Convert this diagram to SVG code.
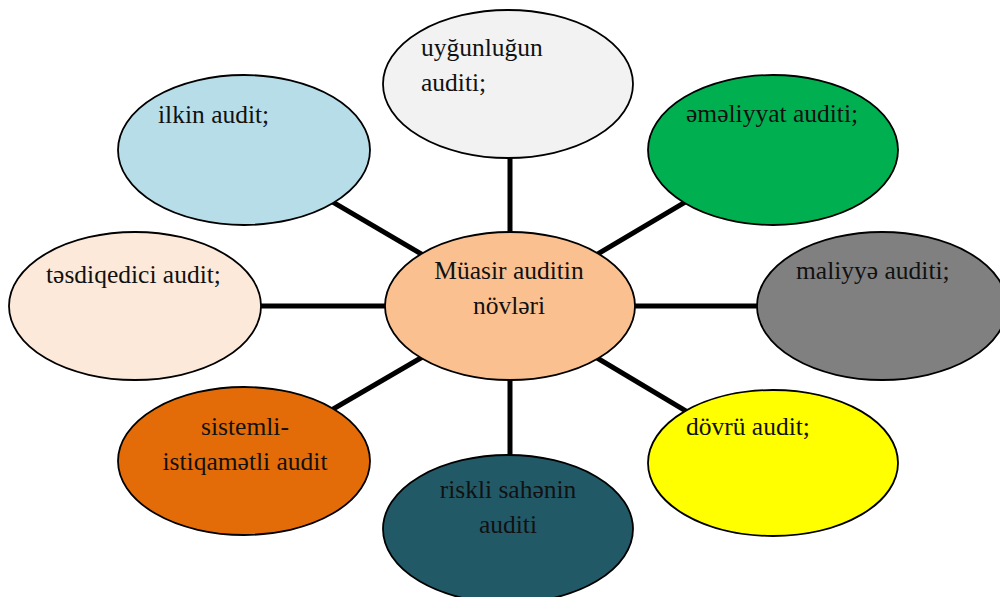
<svg xmlns="http://www.w3.org/2000/svg" width="1000" height="597" viewBox="0 0 1000 597">
<style>
.n{stroke:#000;stroke-width:1.8}
.t{font-family:"Liberation Serif","Times New Roman",serif;font-size:25.5px;fill:#111}
.m{text-anchor:middle}
.c{stroke:#000;stroke-width:5;fill:none}
</style>
<rect width="1000" height="597" fill="#fff"/>
<g id="connectors">
<line class="c" x1="510" y1="306" x2="510" y2="150"/>
<line class="c" x1="510" y1="306" x2="510" y2="470"/>
<line class="c" x1="510" y1="306" x2="244" y2="150"/>
<line class="c" x1="510" y1="306" x2="773" y2="150"/>
<line class="c" x1="510" y1="306" x2="244" y2="461"/>
<line class="c" x1="510" y1="306" x2="773" y2="463"/>
<line class="c" x1="510" y1="306" x2="200" y2="306"/>
<line class="c" x1="510" y1="306" x2="820" y2="306"/>
</g>
<g id="n-uygunlugun">
<ellipse class="n" cx="508" cy="84" rx="125" ry="74" fill="#F2F2F2"/>
<text class="t" x="421" y="56">uyğunluğun</text>
<text class="t" x="421" y="91">auditi;</text>
</g>
<g id="n-ilkin">
<ellipse class="n" cx="244" cy="150" rx="126" ry="75" fill="#B7DEE8"/>
<text class="t" x="158" y="123">ilkin audit;</text>
</g>
<g id="n-emeliyyat">
<ellipse class="n" cx="773" cy="150" rx="125" ry="75" fill="#00B050"/>
<text class="t" x="686" y="122">əməliyyat auditi;</text>
</g>
<g id="n-tesdiqedici">
<ellipse class="n" cx="135" cy="306" rx="126" ry="74" fill="#FDE9D9"/>
<text class="t" x="46" y="283">təsdiqedici audit;</text>
</g>
<g id="n-maliyye">
<ellipse class="n" cx="882" cy="306" rx="125" ry="74" fill="#808080"/>
<text class="t" x="796" y="279">maliyyə auditi;</text>
</g>
<g id="n-center">
<ellipse class="n" cx="510" cy="306" rx="125" ry="74" fill="#FAC090"/>
<text class="t m" x="509" y="279">Müasir auditin</text>
<text class="t m" x="509" y="314">növləri</text>
</g>
<g id="n-sistemli">
<ellipse class="n" cx="244" cy="461" rx="126" ry="74" fill="#E36C09"/>
<text class="t m" x="245" y="435">sistemli-</text>
<text class="t m" x="245" y="470">istiqamətli audit</text>
</g>
<g id="n-riskli">
<ellipse class="n" cx="508" cy="529" rx="125" ry="74" fill="#215967"/>
<text class="t m" x="508" y="498">riskli sahənin</text>
<text class="t m" x="508" y="533">auditi</text>
</g>
<g id="n-dovru">
<ellipse class="n" cx="773" cy="463" rx="125" ry="73" fill="#FFFF00"/>
<text class="t" x="686" y="435">dövrü audit;</text>
</g>
</svg>
